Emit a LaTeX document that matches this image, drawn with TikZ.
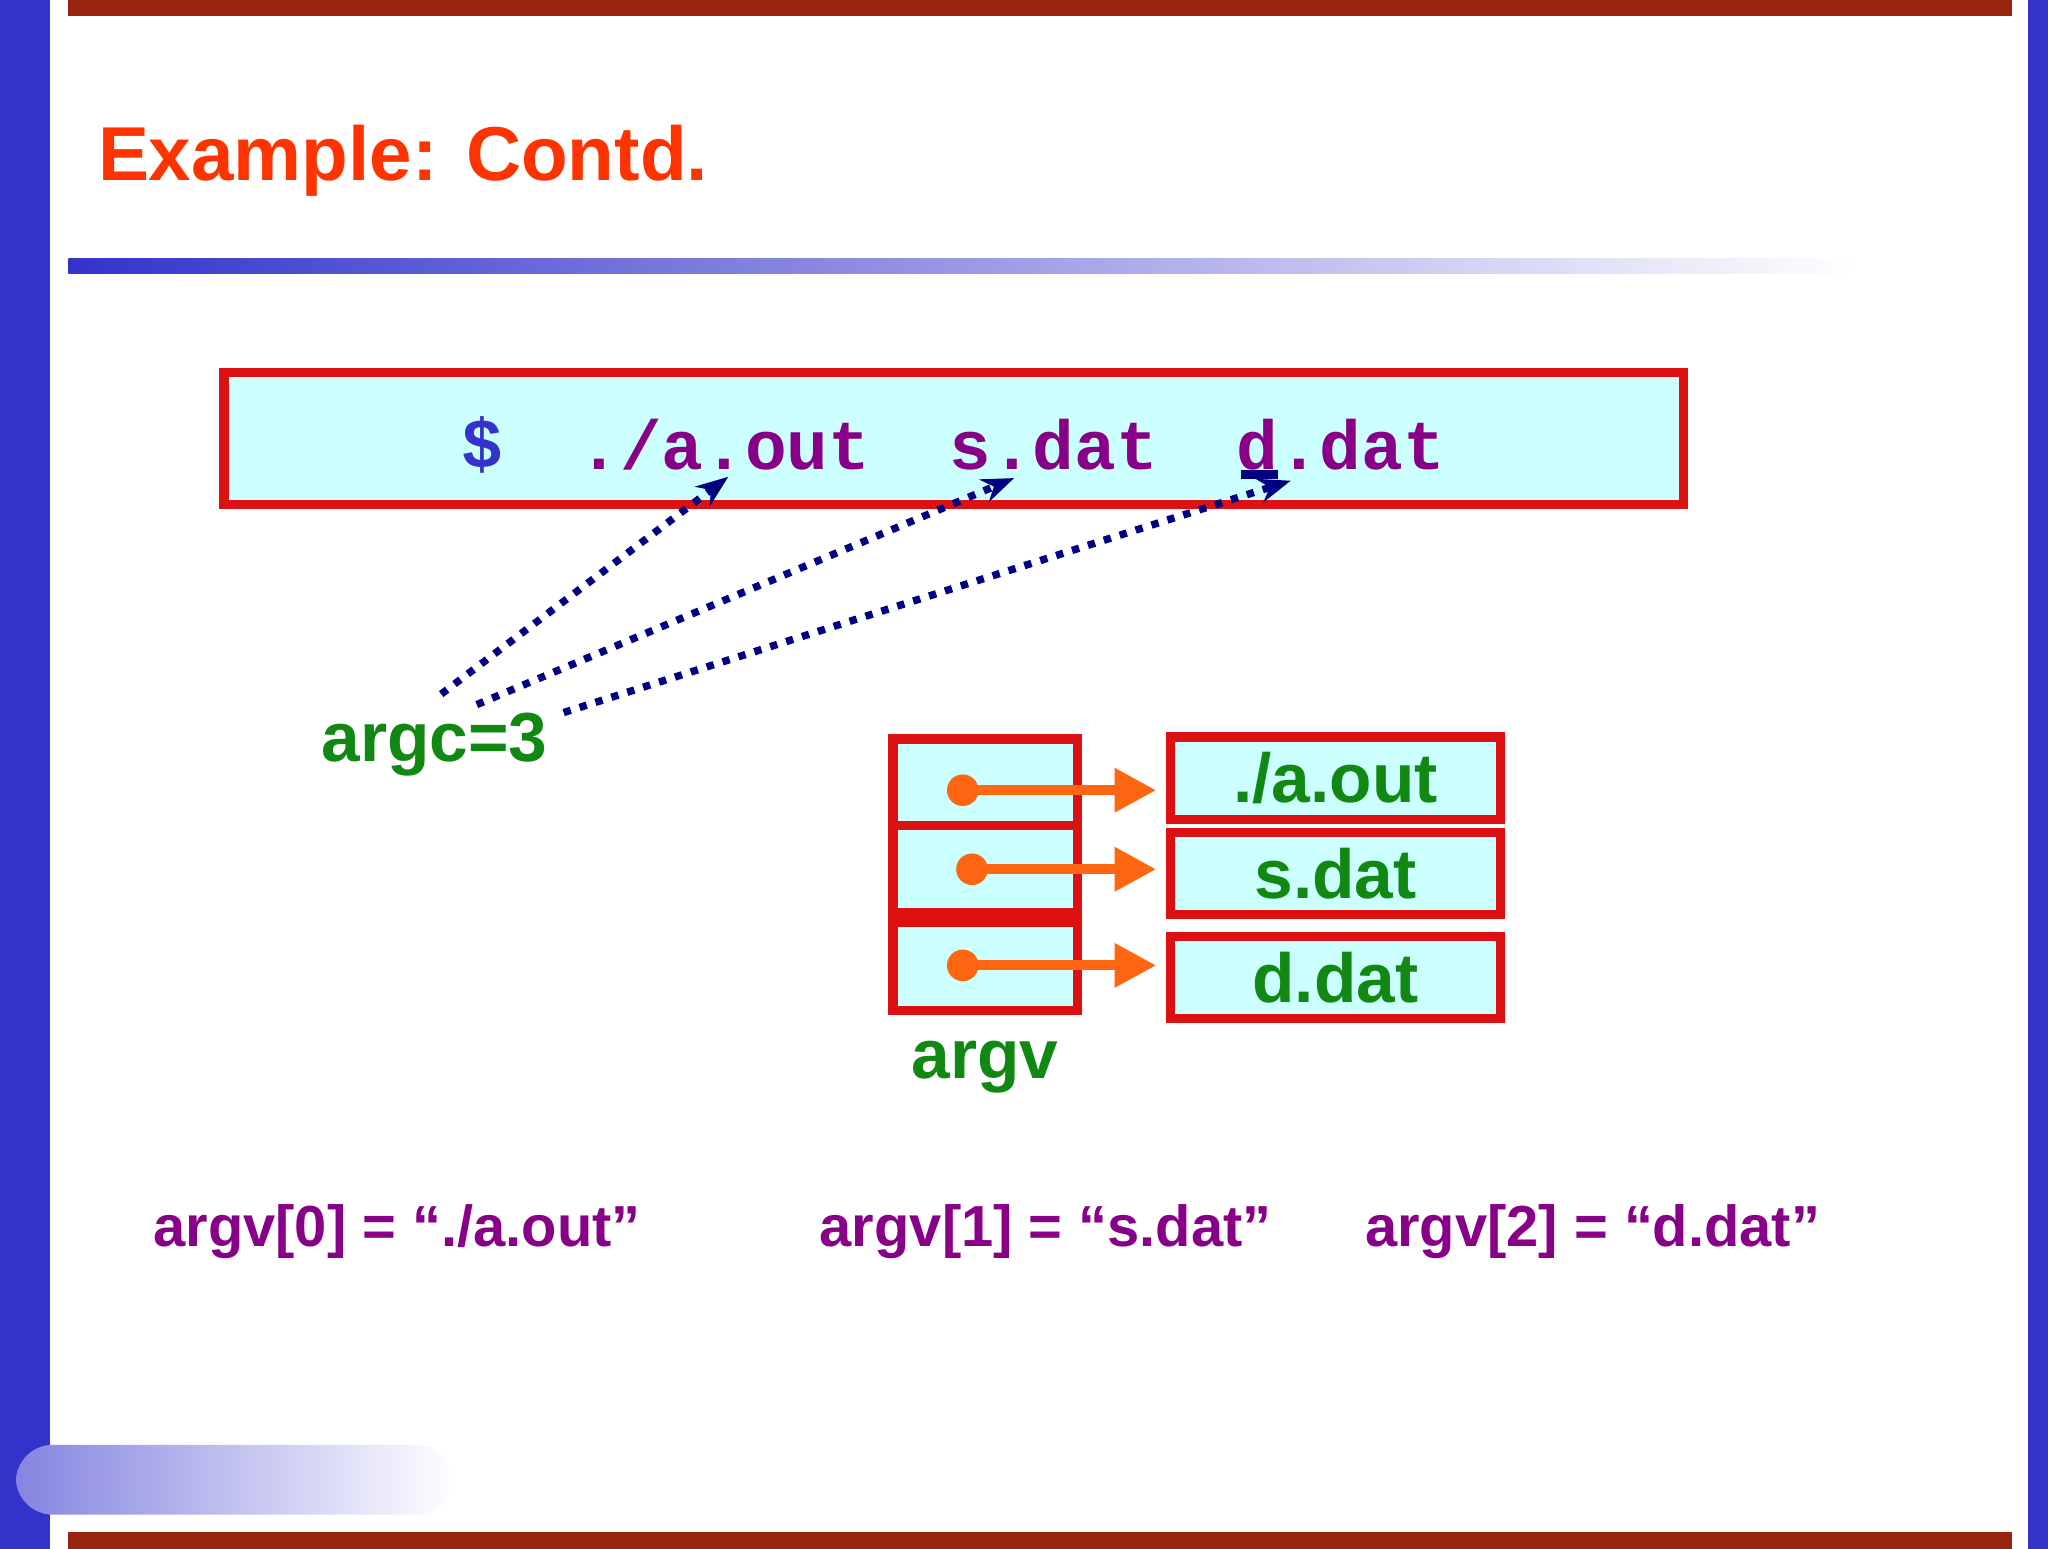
\documentclass[tikz,border=0pt]{standalone}
\usepackage{fontspec}
\setmainfont{Liberation Sans}
\setmonofont{Liberation Mono}
\usepackage{tikz}
\usetikzlibrary{arrows.meta}
\usetikzlibrary{calc}
\definecolor{slideblue}{HTML}{3333CC}
\definecolor{slidered}{HTML}{992211}
\definecolor{titleorange}{HTML}{FF3300}
\definecolor{boxcyan}{HTML}{CCFFFF}
\definecolor{boxred}{HTML}{DD1111}
\definecolor{txtgreen}{HTML}{118811}
\definecolor{txtpurple}{HTML}{880088}
\definecolor{ptrorange}{HTML}{FF6611}
\definecolor{navy}{HTML}{000080}
\tikzset{
  cell/.style={draw=boxred,fill=boxcyan,line width=2pt},
  ptr/.style={ptrorange,line width=2.2pt,-{Triangle[length=9pt,width=9pt]}},
  dotarrow/.style={navy,dotted,line width=1.6pt,-{Stealth[length=7pt]}},
}
\begin{document}
\begin{tikzpicture}[x=0.01cm,y=-0.01cm]
  \useasboundingbox (0,0) rectangle (1555,1176);
  % frame
  \fill[slideblue] (0,0) rectangle (38,1176);
  \fill[slideblue] (1540,0) rectangle (1555,1176);
  \fill[slidered] (52,0) rectangle (1528,12);
  \fill[slidered] (52,1163) rectangle (1528,1176);
  \shade[left color=slideblue,right color=white] (52,196) rectangle (1410,208);
  \shade[left color=slideblue!60,right color=white,rounded corners=8pt] (12,1097) rectangle (345,1150);
  \node[anchor=west,text=titleorange,font=\fontsize{16.5}{18}\selectfont\bfseries] (title) at (62,122) {Example: Contd.};

  % command line
  \draw[cell] (170,283) rectangle (1278,383);
  \begin{scope}[font=\fontsize{15}{17}\selectfont\ttfamily\bfseries,text=txtpurple]
    \node[text=slideblue] (dollar) at (366,338) {\$};
    \node (aout) at (550,338) {./a.out};
    \node (sdat) at (800,338) {s.dat};
    \node (ddat) at (1018,338) {d.dat};
  \end{scope}
  \draw[navy,line width=2pt] (942,360) -- (970,360);

  \node[text=txtgreen,font=\fontsize{15}{17}\selectfont\bfseries] (argc) at (330,565) {argc=3};
  \coordinate (s0) at (335,527);
  \coordinate (s1) at (362,535);
  \coordinate (s2) at (428,541);
  \coordinate (t0) at (553,362);
  \coordinate (t1) at (770,363);
  \coordinate (t2) at (980,365);
  \foreach \i in {0,1,2} \draw[dotarrow] (s\i) -- (t\i);

  % argv array
  \draw[cell] (678,561) rectangle (818,627);
  \draw[cell] (678,627) rectangle (818,693);
  \draw[cell] (678,700) rectangle (818,767);
  \node[cell,minimum width=2.5cm,minimum height=0.6cm,text=txtgreen,font=\fontsize{15}{17}\selectfont\bfseries] (str0) at (1014,591) {./a.out};
  \node[cell,minimum width=2.5cm,minimum height=0.6cm,text=txtgreen,font=\fontsize{15}{17}\selectfont\bfseries] (str1) at (1014,663) {s.dat};
  \node[cell,minimum width=2.5cm,minimum height=0.6cm,text=txtgreen,font=\fontsize{15}{17}\selectfont\bfseries] (str2) at (1014,742) {d.dat};
  \coordinate (p0) at (731,600);
  \coordinate (p1) at (738,660);
  \coordinate (p2) at (731,733);
  \foreach \i/\y in {0/600,1/660,2/733} {
    \fill[ptrorange] (p\i) circle (12);
    \draw[ptr] (p\i) -- (878,\y);
  }
  \node[text=txtgreen,font=\fontsize{15}{17}\selectfont\bfseries] (argv) at (748,810) {argv};

  % values
  \begin{scope}[font=\fontsize{12.5}{15}\selectfont\bfseries,text=txtpurple,anchor=west]
    \node (v0) at (104,935) {argv[0] = “./a.out”};
    \node (v1) at (610,935) {argv[1] = “s.dat”};
    \node (v2) at (1024,935) {argv[2] = “d.dat”};
  \end{scope}
\end{tikzpicture}
\end{document}
